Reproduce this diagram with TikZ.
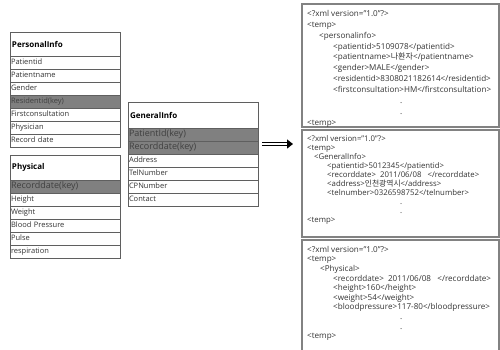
\documentclass[tikz,border=0pt]{standalone}
\usepackage{fontspec}
\setmainfont{Open Sans}
\newfontfamily\kr{Noto Sans CJK KR}
\usetikzlibrary{positioning,arrows.meta,calc}
\definecolor{keygray}{RGB}{128,128,128}
\definecolor{linegray}{RGB}{95,95,95}
\definecolor{boxgray}{RGB}{130,130,130}

\begin{document}
\begin{tikzpicture}[%
    x=1pt, y=-1pt,
    tabtitle/.style={%
      rectangle,          % plain box
      draw=linegray,      % gray edge
      line width=0.7pt,   %           and thin
      outer sep=0pt,      % rows share their edges
      minimum height=24pt,
      text width=106pt,   % default table width
      inner xsep=2pt,
      align=left,         % text on the left
      anchor=north west,
      font=\fontsize{8}{9}\selectfont\bfseries
    },
    tabrow/.style={%
      rectangle,
      draw=linegray,
      line width=0.7pt,
      outer sep=0pt,
      minimum height=13pt,
      inner ysep=0pt,
      text width=108pt,
      inner xsep=1pt,
      align=left,
      text height=5.6pt,  % same height in each row
      text depth=1.6pt,
      text=black!80,
      font=\fontsize{7.5}{8}\selectfont
    },
    keyrow/.style={%
      tabrow,             % a row
      fill=keygray,       % filled in dark gray
      text=black!75
    },
    bigkey/.style={%
      keyrow,
      text height=6.6pt,
      text depth=2pt,
      font=\fontsize{9}{10}\selectfont
    },
    xmlbox/.style={%
      rectangle,
      draw=boxgray,       % gray edge
      line width=1.2pt,   %           and thick
      outer sep=0pt,
      minimum width=197pt,
      anchor=north west
    },
    xmltext/.style={%
      anchor=north west,
      align=left,
      inner sep=0pt,
      text=black!80,
      font=\fontsize{8.1}{10.9}\selectfont
    },
    bigarrow/.style={%
      double,                   % two lines
      double distance=2.2pt,
      line width=1.3pt,
      -{Triangle[length=6pt,width=9pt]} % solid head
    }
]

    \useasboundingbox (0,0) rectangle (500,349);
    \clip (0,0) rectangle (500,349);

    % PersonalInfo table
    \node at (10,32) [tabtitle] (pers) {PersonalInfo};
    \node [tabrow, below=0pt of pers]      (perspid)   {Patientid};
    \node [tabrow, below=0pt of perspid]   (persname)  {Patientname};
    \node [tabrow, below=0pt of persname]  (persgen)   {Gender};
    \node [keyrow, below=0pt of persgen]   (persres)   {Residentid(key)};
    \node [tabrow, below=0pt of persres]   (persfirst) {Firstconsultation};
    \node [tabrow, below=0pt of persfirst] (persphys)  {Physician};
    \node [tabrow, below=0pt of persphys]  (persrec)   {Record date};

    % Physical table
    \node at (10,155) [tabtitle, minimum height=25pt] (phys) {Physical};
    \node [bigkey, below=0pt of phys]      (physrec)   {Recorddate(key)};
    \node [tabrow, below=0pt of physrec]   (physheight){Height};
    \node [tabrow, below=0pt of physheight](physweight){Weight};
    \node [tabrow, below=0pt of physweight](physblood) {Blood Pressure};
    \node [tabrow, below=0pt of physblood] (physpulse) {Pulse};
    \node [tabrow, below=0pt of physpulse] (physresp)  {respiration};

    % GeneralInfo table
    \node at (128,102) [tabtitle, text width=126pt, minimum height=26pt] (gen) {GeneralInfo};
    \node [bigkey, text width=128pt, below=0pt of gen]    (genpid)  {PatientId(key)};
    \node [bigkey, text width=128pt, below=0pt of genpid] (genrec)  {Recorddate(key)};
    \node [tabrow, text width=128pt, below=0pt of genrec] (genaddr) {Address};
    \node [tabrow, text width=128pt, below=0pt of genaddr](gentel)  {TelNumber};
    \node [tabrow, text width=128pt, below=0pt of gentel] (gencp)   {CPNumber};
    \node [tabrow, text width=128pt, below=0pt of gencp]  (gencont) {Contact};

    % xml documents
    \node at (302,4)   [xmlbox, minimum height=123pt] (xmlpers) {};
    \node at (302,130) [xmlbox, minimum height=107pt] (xmlgen)  {};
    \node at (302,240) [xmlbox, minimum height=115pt] (xmlphys) {};

    \node at ($(xmlpers.north west)+(5,6)$) [xmltext] (xmlperstext) {%
      <?xml version="1.0"?>\\
      <temp>\\
      \hspace*{12pt}<personalinfo>\\
      \hspace*{26pt}<patientid>5109078</patientid>\\
      \hspace*{26pt}<patientname>{\kr 나환자}</patientname>\\
      \hspace*{26pt}<gender>MALE</gender>\\
      \hspace*{26pt}<residentid>8308021182614</residentid>\\
      \hspace*{26pt}<firstconsultation>HM</firstconsultation>\\
      \hspace*{93pt}.\\
      \hspace*{93pt}.\\
      <temp>};

    \node at ($(xmlgen.north west)+(5,5)$) [xmltext, font=\fontsize{7.8}{9}\selectfont] (xmlgentext) {%
      <?xml version="1.0"?>\\
      <temp>\\
      \hspace*{7pt}<GeneralInfo>\\
      \hspace*{20pt}<patientid>5012345</patientid>\\
      \hspace*{20pt}<recorddate>\ \ 2011/06/08\ \ \ </recorddate>\\
      \hspace*{20pt}<address>{\kr 인천광역시}</address>\\
      \hspace*{20pt}<telnumber>0326598752</telnumber>\\
      \hspace*{93pt}.\\
      \hspace*{93pt}.\\
      <temp>};

    \node at ($(xmlphys.north west)+(5,6)$) [xmltext, font=\fontsize{8.1}{9.6}\selectfont] (xmlphystext) {%
      <?xml version="1.0"?>\\
      <temp>\\
      \hspace*{13pt}<Physical>\\
      \hspace*{26pt}<recorddate>\ \ 2011/06/08\ \ \ </recorddate>\\
      \hspace*{26pt}<height>160</height>\\
      \hspace*{26pt}<weight>54</weight>\\
      \hspace*{26pt}<bloodpressure>117-80</bloodpressure>\\
      \hspace*{93pt}.\\
      \hspace*{93pt}.\\
      <temp>};

    % connection
    \draw[bigarrow]
    ($(genpid.south east)+(4,3)$) --
    ($(genpid.south east -| xmlgen.west)+(-9,3)$);

\end{tikzpicture}
\end{document}
